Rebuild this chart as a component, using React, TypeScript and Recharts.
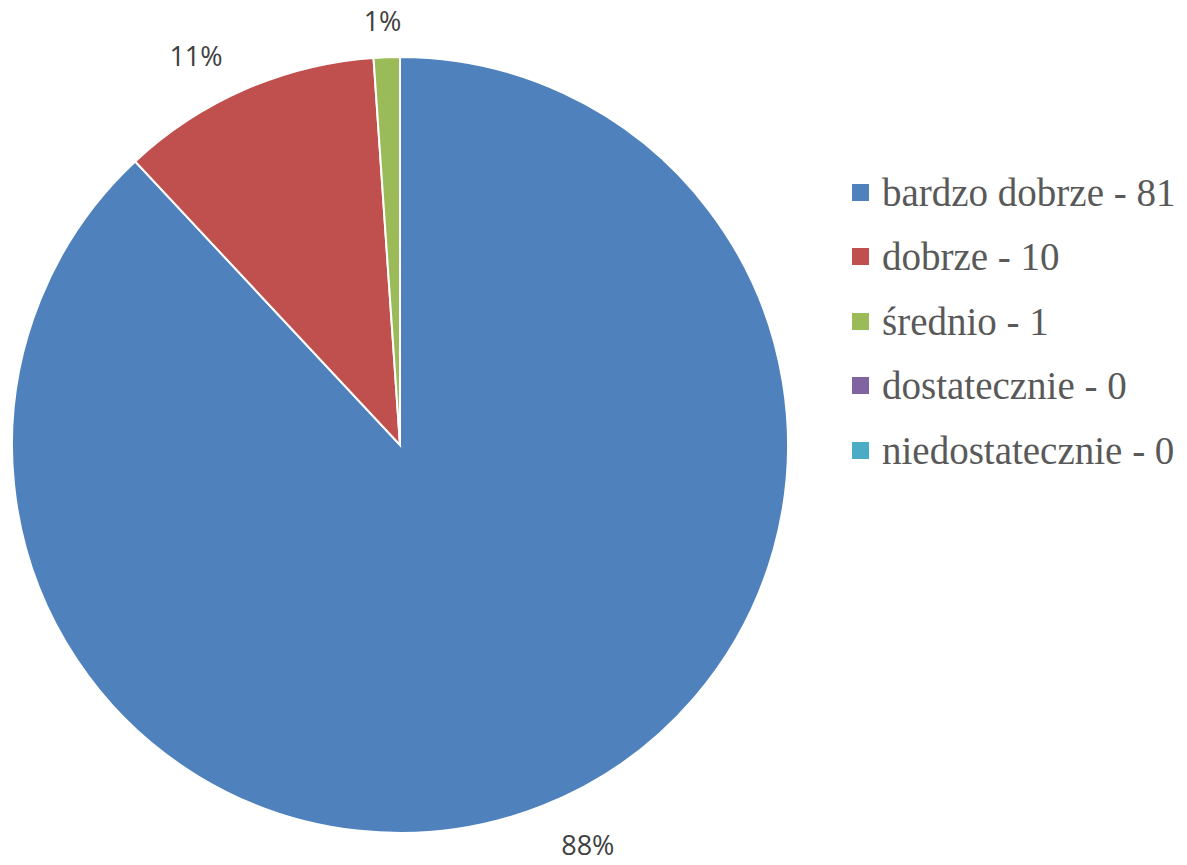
import { PieChart, Pie, Cell, Legend } from "recharts";

const categories = ["bardzo dobrze", "dobrze", "średnio", "dostatecznie", "niedostatecznie"];
const counts = [81, 10, 1, 0, 0];
const COLORS = ["#4F81BD", "#C0504D", "#9BBB59", "#8064A2", "#4BACC6"];

const data = categories.map((name, i) => ({
  name: `${name} - ${counts[i]}`,
  value: counts[i],
}));

const total = counts.reduce((a, b) => a + b, 0);
const RADIAN = Math.PI / 180;

// outside-end style labels, a bit like excel places them
const renderLabel = (props: any) => {
  const { cx, cy, midAngle, outerRadius, value } = props;
  if (!value) return null;
  const cos = Math.cos(-midAngle * RADIAN);
  const sin = Math.sin(-midAngle * RADIAN);
  const x = cx + (outerRadius + 124) * cos;
  const y = cy + (outerRadius + 37) * sin + (sin > 0 ? 4 : 0);
  return (
    <text
      x={x}
      y={y}
      textAnchor="middle"
      dominantBaseline="central"
      fill="#404040"
      fontSize={27}
      fontFamily="'Open Sans', sans-serif"
    >
      {`${Math.round((value / total) * 100)}%`}
    </text>
  );
};

const renderLegend = () => (
  <div>
    {data.map((entry, i) => (
      <div key={i} style={{ display: "flex", alignItems: "center", height: 64.5 }}>
        <span
          style={{
            width: 17,
            height: 17,
            background: COLORS[i],
            marginRight: 13,
            display: "inline-block",
            flexShrink: 0,
          }}
        />
        <span
          style={{
            fontFamily: '"Liberation Serif", "Times New Roman", serif',
            fontSize: 39,
            color: "#595959",
            whiteSpace: "nowrap",
            lineHeight: 1,
          }}
        >
          {entry.name}
        </span>
      </div>
    ))}
  </div>
);

export default function App() {
  return (
    <div style={{ position: "absolute", left: 0, top: 0, width: 1187, height: 865, background: "#fff" }}>
      <PieChart width={1187} height={865} margin={{ top: 0, right: 0, bottom: 0, left: 0 }}>
        <Pie
          data={data}
          dataKey="value"
          nameKey="name"
          cx={400}
          cy={445}
          outerRadius={388}
          startAngle={90}
          endAngle={-270}
          stroke="#fff"
          strokeWidth={2}
          label={renderLabel}
          labelLine={false}
          isAnimationActive={false}
        >
          {data.map((_, i) => (
            <Cell key={i} fill={COLORS[i]} />
          ))}
        </Pie>
        <Legend
          layout="vertical"
          content={renderLegend}
          wrapperStyle={{ left: 852, top: 160, width: 335 }}
        />
      </PieChart>
    </div>
  );
}
